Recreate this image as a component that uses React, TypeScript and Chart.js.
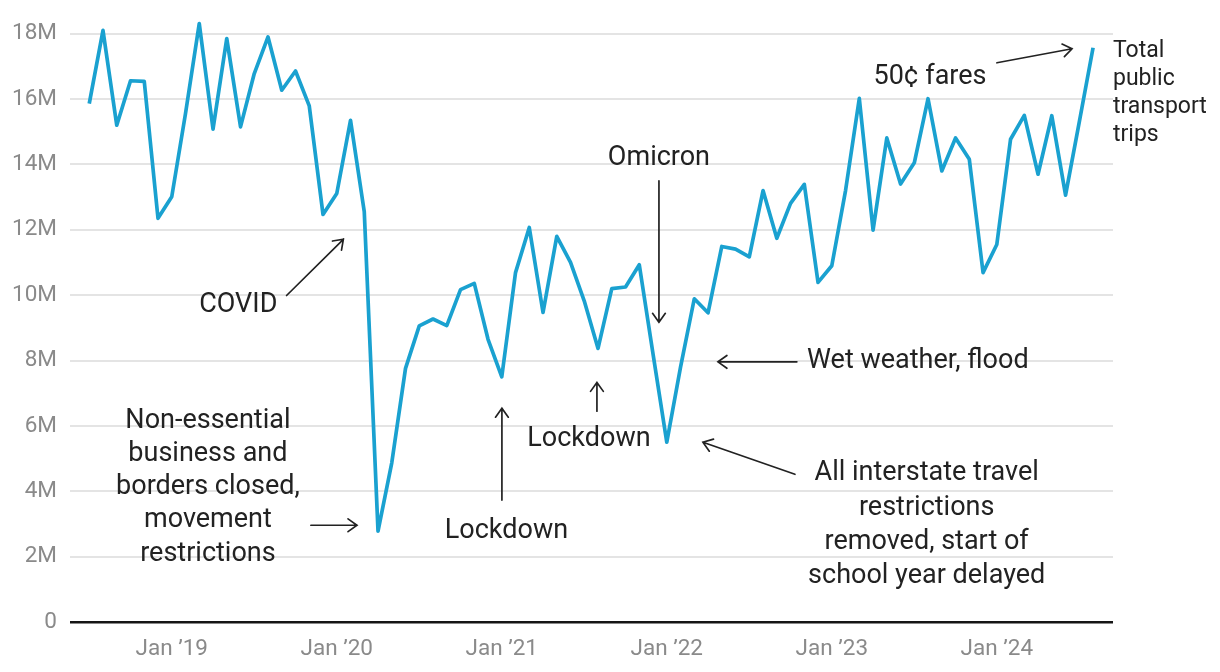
import React, { useEffect, useRef } from "react";
import { Chart, registerables } from "chart.js";

Chart.register(...registerables);

// Monthly public transport trips (millions), Jul 2018 – Aug 2024
const startYear = 2018;
const startMonth = 6; // July (0-based)
const tripsMillions = [
  15.86, 18.1, 15.2, 16.56, 16.54, 12.35,
  13.01, 15.56, 18.31, 15.08, 17.85, 15.15, 16.78, 17.9, 16.27, 16.86, 15.79, 12.47,
  13.11, 15.35, 12.55, 2.78, 4.87, 7.76, 9.06, 9.27, 9.07, 10.17, 10.36, 8.65,
  7.5, 10.69, 12.07, 9.47, 11.8, 11.0, 9.82, 8.37, 10.2, 10.25, 10.93, 8.2,
  5.5, 7.8, 9.89, 9.46, 11.49, 11.41, 11.17, 13.2, 11.74, 12.81, 13.39, 10.39,
  10.9, 13.2, 16.02, 11.99, 14.81, 13.4, 14.05, 16.01, 13.8, 14.81, 14.16, 10.69,
  11.55, 14.77, 15.5, 13.7, 15.49, 13.06, 15.3, 17.57,
];
const monthNames = ["Jan", "Feb", "Mar", "Apr", "May", "Jun", "Jul", "Aug", "Sep", "Oct", "Nov", "Dec"];
const monthLabels = tripsMillions.map((_, i) => {
  const m = (startMonth + i) % 12;
  const yr = startYear + Math.floor((startMonth + i) / 12);
  return `${monthNames[m]} ${yr}`;
});

const yTickValues = [0, 2, 4, 6, 8, 10, 12, 14, 16, 18];
const yTickLabels = ["0", "2M", "4M", "6M", "8M", "10M", "12M", "14M", "16M", "18M"];
const xTickIndexes = [6, 18, 30, 42, 54, 66];
const xTickLabels = ["Jan \u201919", "Jan \u201920", "Jan \u201921", "Jan \u201922", "Jan \u201923", "Jan \u201924"];

// Annotations in data units (x = month index, y = millions)
type Note = { lines: string[]; x: number; y: number; align: CanvasTextAlign; size: number; lh: number };
const notes: Note[] = [
  { lines: ["COVID"], x: 10.84, y: 9.49, align: "center", size: 27, lh: 33.75 },
  { lines: ["Non-essential", "business and", "borders closed,", "movement", "restrictions"], x: 8.63, y: 5.94, align: "center", size: 27, lh: 33.2 },
  { lines: ["Lockdown"], x: 30.34, y: 2.58, align: "center", size: 27, lh: 33.75 },
  { lines: ["Lockdown"], x: 36.34, y: 5.38, align: "center", size: 27, lh: 33.75 },
  { lines: ["Omicron"], x: 41.43, y: 13.97, align: "center", size: 27, lh: 33.75 },
  { lines: ["Wet weather, flood"], x: 52.2, y: 7.78, align: "left", size: 27, lh: 33.75 },
  { lines: ["All interstate travel", "restrictions", "removed, start of", "school year delayed"], x: 60.9, y: 4.34, align: "center", size: 27, lh: 34.4 },
  { lines: ["50\u00a2 fares"], x: 61.14, y: 16.46, align: "center", size: 27, lh: 33.75 },
  { lines: ["Total", "public", "transport", "trips"], x: 74.45, y: 17.3, align: "left", size: 23, lh: 28 },
];
const arrows: { from: [number, number]; to: [number, number] }[] = [
  { from: [14.35, 9.99], to: [18.48, 11.71] },
  { from: [16.12, 2.96], to: [19.47, 2.96] },
  { from: [30.01, 3.73], to: [30.01, 6.54] },
  { from: [36.92, 6.45], to: [36.92, 7.33] },
  { from: [41.43, 13.5], to: [41.43, 9.17] },
  { from: [51.46, 7.96], to: [45.72, 7.96] },
  { from: [51.32, 4.52], to: [44.63, 5.5] },
  { from: [66.01, 17.11], to: [71.47, 17.54] },
];

const notesPlugin = {
  id: "notes",
  afterDraw(chart: any) {
    const { ctx } = chart;
    const xs = chart.scales.x;
    const ys = chart.scales.y;
    ctx.save();
    ctx.fillStyle = "#222";
    ctx.strokeStyle = "#222";
    ctx.textBaseline = "alphabetic";
    for (const n of notes) {
      ctx.font = `${n.size}px Roboto`;
      ctx.textAlign = n.align;
      const px = xs.getPixelForValue(n.x);
      const py = ys.getPixelForValue(n.y);
      n.lines.forEach((l, i) => ctx.fillText(l, px, py + i * n.lh));
    }
    ctx.lineWidth = 1.7;
    ctx.lineCap = "round";
    for (const a of arrows) {
      const x1 = xs.getPixelForValue(a.from[0]);
      const y1 = ys.getPixelForValue(a.from[1]);
      const x2 = xs.getPixelForValue(a.to[0]);
      const y2 = ys.getPixelForValue(a.to[1]);
      const ang = Math.atan2(y2 - y1, x2 - x1);
      const hl = 11;
      const ha = 0.62;
      ctx.beginPath();
      ctx.moveTo(x1, y1);
      ctx.lineTo(x2, y2);
      ctx.moveTo(x2 - hl * Math.cos(ang - ha), y2 - hl * Math.sin(ang - ha));
      ctx.lineTo(x2, y2);
      ctx.lineTo(x2 - hl * Math.cos(ang + ha), y2 - hl * Math.sin(ang + ha));
      ctx.stroke();
    }
    ctx.restore();
  },
};

export default function App() {
  const ref = useRef<HTMLCanvasElement | null>(null);
  useEffect(() => {
    if (!ref.current) return;
    const chart = new Chart(ref.current, {
      type: "line",
      data: {
        labels: monthLabels,
        datasets: [
          {
            label: "Total public transport trips",
            data: tripsMillions.map((v, i) => ({ x: i, y: v })),
            borderColor: "#1aa1d0",
            borderWidth: 3.7,
            borderJoinStyle: "round",
            pointRadius: 0,
            tension: 0,
            fill: false,
            clip: false,
          },
        ],
      },
      options: {
        animation: false,
        responsive: false,
        devicePixelRatio: 1,
        layout: { padding: { left: 0, right: 107, top: 0, bottom: 0 } },
        plugins: { legend: { display: false }, tooltip: { enabled: false } },
        scales: {
          x: {
            type: "linear",
            min: -1.4,
            max: 74.45,
            afterBuildTicks: (s: any) => {
              s.ticks = xTickIndexes.map((v) => ({ value: v }));
            },
            afterFit: (s: any) => {
              s.height = 50;
            },
            grid: { display: false, drawTicks: false },
            border: { display: false },
            ticks: {
              autoSkip: false,
              maxRotation: 0,
              padding: 14,
              color: "#8a8a8a",
              font: { family: "Roboto", size: 22.5 },
              callback: (v: any) => {
                const i = xTickIndexes.indexOf(Number(v));
                return i >= 0 ? xTickLabels[i] : "";
              },
            },
          },
          y: {
            type: "linear",
            min: 0,
            max: 18.22,
            afterBuildTicks: (s: any) => {
              s.ticks = yTickValues.map((v) => ({ value: v }));
            },
            afterFit: (s: any) => {
              s.width = 70;
            },
            border: { display: false },
            grid: {
              color: (c: any) => (c.tick && c.tick.value === 0 ? "#151515" : "#e4e4e4"),
              lineWidth: (c: any) => (c.tick && c.tick.value === 0 ? 2.6 : 2),
              drawTicks: false,
            },
            ticks: {
              padding: 13,
              color: "#8a8a8a",
              font: { family: "Roboto", size: 22.5 },
              callback: (v: any) => {
                const i = yTickValues.indexOf(Number(v));
                return i >= 0 ? yTickLabels[i] : "";
              },
            },
          },
        },
      },
      plugins: [notesPlugin],
    });
    return () => chart.destroy();
  }, []);
  return (
    <div style={{ position: "absolute", left: 0, top: 0, width: 1220, height: 672, background: "#fff" }}>
      <canvas ref={ref} width={1220} height={672} style={{ display: "block" }} />
    </div>
  );
}
